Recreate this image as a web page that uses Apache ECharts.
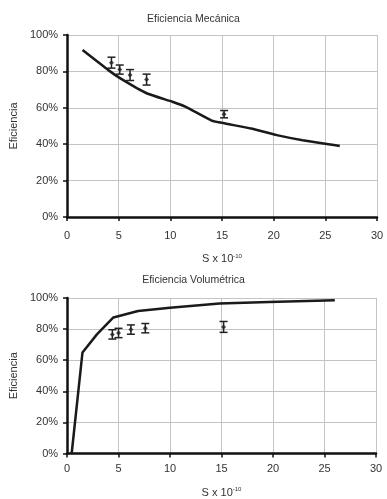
<!DOCTYPE html>
<html>
<head>
<meta charset="utf-8">
<script src="https://cdn.jsdelivr.net/npm/echarts@6/dist/echarts.min.js"></script>
<style>
html,body{margin:0;padding:0;background:#fff;}
#chart{width:387px;height:499px;}
</style>
</head>
<body>
<div id="chart"></div>
<script>
// curva teorica - eficiencia mecanica
var mecX = [1.5, 4.0, 5.2, 7.7, 10.2, 11.5, 14.0, 15.3, 17.8, 20.3, 22.8, 25.3, 26.4];
var mecY = [91.7, 80.7, 76, 68, 63.3, 60.5, 53, 51.4, 48.6, 45, 42.2, 40, 39];
// puntos experimentales con barras de error
var mecExpX = [4.3, 5.1, 6.1, 7.7, 15.2];
var mecExpY = [84.8, 81, 78, 75.5, 56.5];
var mecErr = [3, 2.5, 3, 3, 2];

// curva teorica - eficiencia volumetrica
var volX = [0.45, 1.5, 2.9, 4.5, 6.9, 10, 14.8, 19.6, 26];
var volY = [0, 65, 76.6, 87.5, 91.6, 93.7, 96.5, 97.5, 98.5];
var volExpX = [4.4, 5.0, 6.2, 7.6, 15.2];
var volExpY = [76.6, 77.5, 79.7, 80.6, 81.4];
var volErr = [3, 3, 3, 3, 3.5];

function pairs(xs, ys) {
    var out = [];
    for (var i = 0; i < xs.length; i++) out.push([xs[i], ys[i]]);
    return out;
}
function errData(xs, ys, es) {
    var out = [];
    for (var i = 0; i < xs.length; i++) out.push([xs[i], ys[i] - es[i], ys[i] + es[i]]);
    return out;
}

var font = 'Liberation Sans, Arial, sans-serif';

function errRender(params, api) {
    var x = api.value(0);
    var lo = api.coord([x, api.value(1)]);
    var hi = api.coord([x, api.value(2)]);
    var w = 4;
    var st = {stroke: '#222', lineWidth: 1.5};
    return {
        type: 'group',
        children: [
            {type: 'line', shape: {x1: lo[0], y1: lo[1], x2: hi[0], y2: hi[1]}, style: st},
            {type: 'line', shape: {x1: lo[0] - w, y1: lo[1], x2: lo[0] + w, y2: lo[1]}, style: st},
            {type: 'line', shape: {x1: hi[0] - w, y1: hi[1], x2: hi[0] + w, y2: hi[1]}, style: st}
        ]
    };
}

function xAxis(idx) {
    return {
        gridIndex: idx, type: 'value', min: 0, max: 30, interval: 5,
        name: 'S x 10{sup|-10}', nameLocation: 'middle', nameGap: idx == 0 ? 36 : 33,
        nameTextStyle: {fontFamily: font, fontSize: 11, color: '#333',
            rich: {sup: {fontSize: 6, verticalAlign: 'top', padding: [0, 0, 6, 0], color: '#333'}}},
        axisLine: {show: true, onZero: false, lineStyle: {color: '#111', width: 2.5}},
        axisTick: {show: true, length: 4, lineStyle: {color: '#111', width: 1.5}},
        axisLabel: {fontFamily: font, fontSize: 11, color: '#333', margin: idx == 0 ? 13 : 10},
        splitLine: {show: true, lineStyle: {color: '#c4c4c4', width: 1}}
    };
}
function yAxis(idx) {
    return {
        gridIndex: idx, type: 'value', min: 0, max: 100, interval: 20,
        name: 'Eficiencia', nameLocation: 'middle', nameGap: 48, nameRotate: 90,
        nameTextStyle: {fontFamily: font, fontSize: 11, color: '#333'},
        axisLine: {show: true, lineStyle: {color: '#111', width: 2.5}},
        axisTick: {show: true, length: 4, lineStyle: {color: '#111', width: 1.5}},
        axisLabel: {fontFamily: font, fontSize: 11, color: '#333', margin: 9, formatter: '{value}%'},
        splitLine: {show: true, lineStyle: {color: '#c4c4c4', width: 1}}
    };
}

var chart = echarts.init(document.getElementById('chart'));
var option = {
    animation: false,
    title: [
        {text: 'Eficiencia Mecánica', left: 'center', top: 9,
            textStyle: {fontFamily: font, fontSize: 10.5, fontWeight: 'normal', color: '#333'}},
        {text: 'Eficiencia Volumétrica', left: 'center', top: 270,
            textStyle: {fontFamily: font, fontSize: 10.5, fontWeight: 'normal', color: '#333'}}
    ],
    grid: [
        {left: 58, right: 10, top: 35, height: 182},
        {left: 61, right: 11, top: 298, height: 159}
    ],
    xAxis: [xAxis(0), xAxis(1)],
    yAxis: [yAxis(0), yAxis(1)],
    series: [
        {type: 'line', xAxisIndex: 0, yAxisIndex: 0, data: pairs(mecX, mecY), smooth: 0.15,
            showSymbol: false, lineStyle: {color: '#1a1a1a', width: 2.5}},
        {type: 'custom', xAxisIndex: 0, yAxisIndex: 0, data: errData(mecExpX, mecExpY, mecErr),
            renderItem: errRender, z: 5},
        {type: 'scatter', xAxisIndex: 0, yAxisIndex: 0, data: pairs(mecExpX, mecExpY),
            symbol: 'diamond', symbolSize: 5, itemStyle: {color: '#222'}, z: 6},
        {type: 'line', xAxisIndex: 1, yAxisIndex: 1, data: pairs(volX, volY), smooth: false,
            showSymbol: false, lineStyle: {color: '#1a1a1a', width: 2.5}},
        {type: 'custom', xAxisIndex: 1, yAxisIndex: 1, data: errData(volExpX, volExpY, volErr),
            renderItem: errRender, z: 5},
        {type: 'scatter', xAxisIndex: 1, yAxisIndex: 1, data: pairs(volExpX, volExpY),
            symbol: 'diamond', symbolSize: 5, itemStyle: {color: '#222'}, z: 6}
    ]
};
chart.setOption(option);
</script>
</body>
</html>
